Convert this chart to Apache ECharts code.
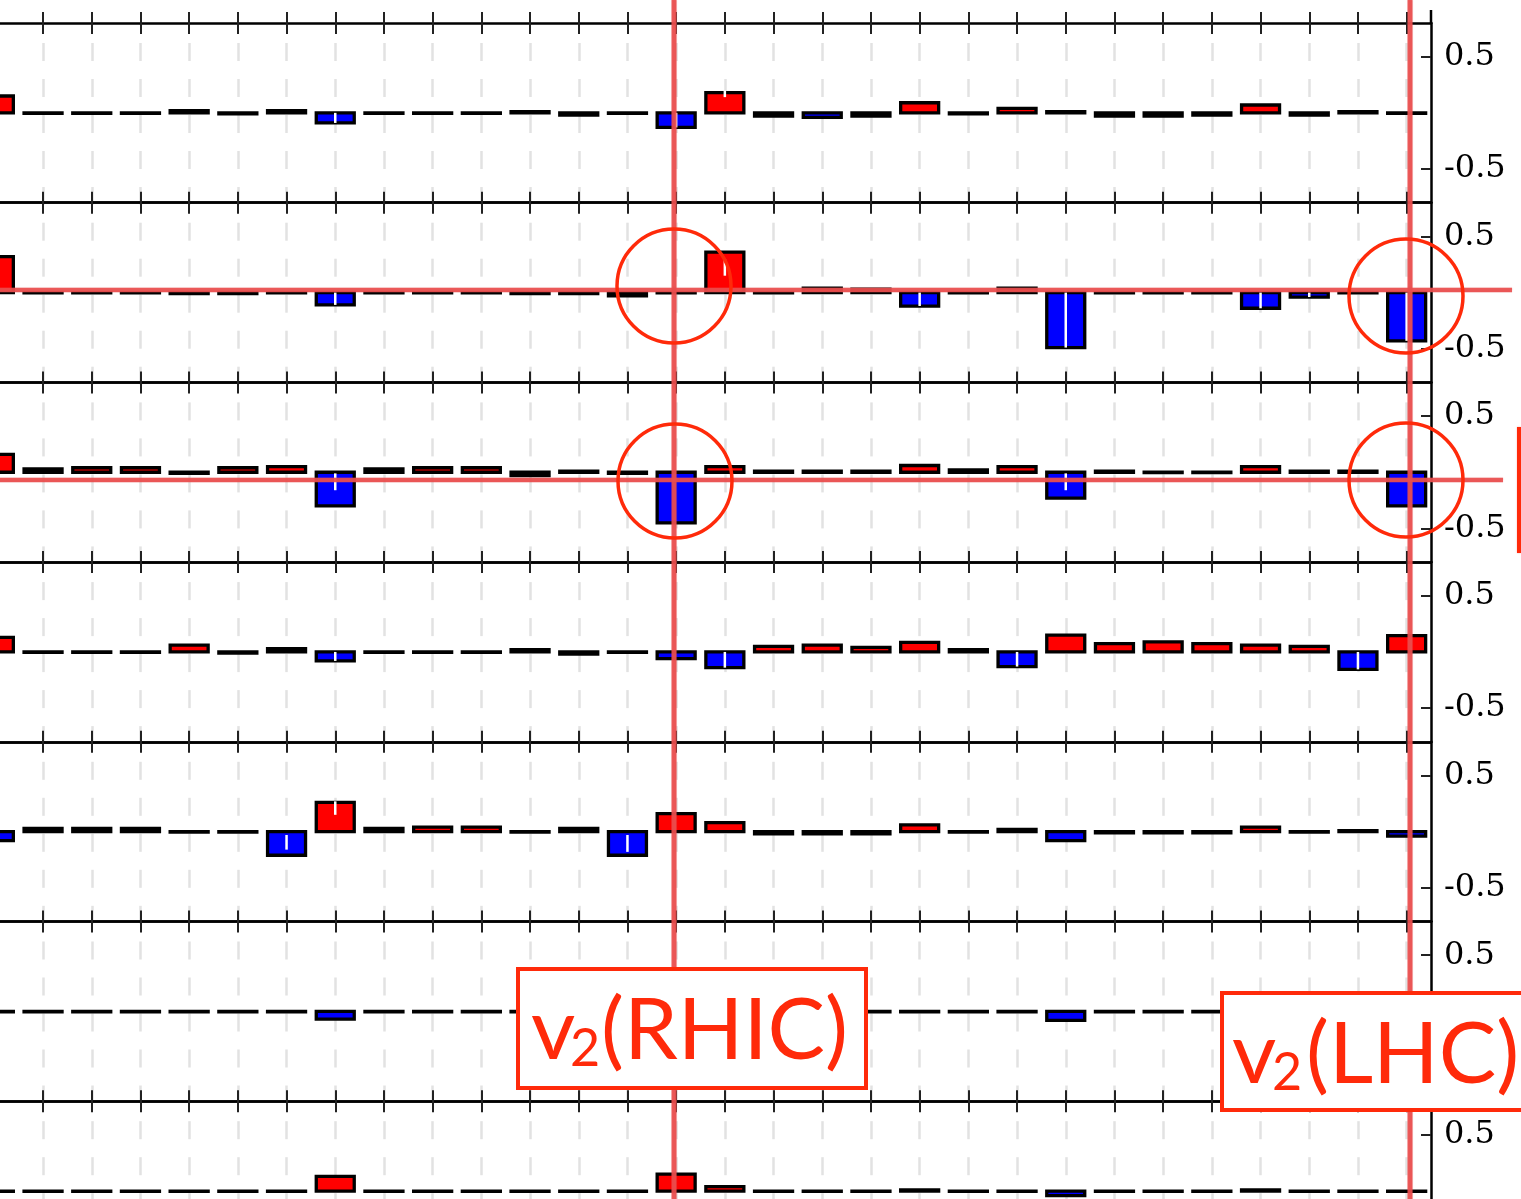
<!DOCTYPE html>
<html><head><meta charset="utf-8">
<script src="https://cdn.jsdelivr.net/npm/echarts@6/dist/echarts.min.js"></script>
<style>html,body{margin:0;padding:0;background:#fff;overflow:hidden;width:1521px;height:1199px}
#c{position:absolute;left:-30px;top:0;width:1551px;height:1300px}</style>
</head><body><div id="c"></div>
<script>
// ---------------- data ----------------
const categories = ['1','2','3','4','5','6','7','8','9','10','11','12','13','14','15',
                    '16','17','18','19','20','21','22','23','24','25','26','27','28','29','30'];
const yTickValues = [-0.5, 0.5];

const panel1 = [0.15, 0, 0, 0, 0.02, -0.01, 0.02, -0.09, 0, 0, 0, 0.01, -0.02, 0, -0.13,
                0.18, -0.03, -0.04, -0.03, 0.09, -0.01, 0.04, 0.01, -0.03, -0.03, -0.02, 0.07, -0.02, 0.01, 0];
const panel2 = [0.32, 0, 0, 0, -0.01, -0.01, 0, -0.11, 0, 0, 0, -0.01, -0.01, -0.03, 0,
                0.36, 0, 0.04, 0.03, -0.12, 0, 0.04, -0.49, 0, 0, 0, -0.14, -0.04, 0, -0.43];
const panel3 = [0.16, 0.03, 0.04, 0.04, -0.01, 0.04, 0.05, -0.30, 0.03, 0.04, 0.04, -0.03, 0.01, -0.01, -0.45,
                0.05, 0.01, 0.01, 0.01, 0.06, 0.02, 0.05, -0.23, 0.01, 0, 0, 0.05, 0.01, 0.01, -0.30];
const panel4 = [0.13, 0, 0, 0, 0.06, -0.01, 0.03, -0.08, 0, 0, 0, 0.02, -0.02, 0, -0.06,
                -0.14, 0.05, 0.06, 0.04, 0.085, 0.02, -0.13, 0.15, 0.075, 0.09, 0.075, 0.06, 0.05, -0.155, 0.145];
const panel5 = [-0.08, 0.03, 0.03, 0.03, 0, 0, -0.21, 0.26, 0.03, 0.04, 0.04, 0, 0.03, -0.21, 0.16,
                0.08, -0.02, -0.02, -0.02, 0.06, 0, 0.02, -0.08, -0.01, -0.01, -0.01, 0.04, 0, 0.01, -0.04];
const panel6 = [0, 0, 0, 0, 0, 0, 0, -0.07, 0, 0, 0, 0, 0, 0, 0,
                0, 0, 0, 0, 0, 0, 0, -0.08, 0, 0, 0, 0, 0, 0, 0];
const panel7 = [0, 0, 0, 0, 0, 0, 0, 0.13, 0, 0, 0, 0, 0, 0, 0.15,
                0.04, 0, 0, 0, 0.01, 0, 0, -0.04, 0, 0, 0, 0.01, 0, 0, 0];

// white error bars: [category index, low, high]
const errors1 = [[7, 0, -0.09], [14, 0, -0.13], [15, 0.2, 0.14]];
const errors2 = [[7, 0, -0.11], [15, 0.30, 0.15], [19, 0, -0.12], [22, 0, -0.49], [26, 0, -0.14], [27, 0, -0.04], [29, 0, -0.43]];
const errors3 = [[7, -0.01, -0.16], [22, -0.01, -0.16]];
const errors4 = [[7, 0, -0.08], [15, 0, -0.14], [21, 0, -0.13], [28, 0, -0.155]];
const errors5 = [[6, -0.03, -0.16], [7, 0.27, 0.15], [13, -0.03, -0.18]];
const errors6 = [];
const errors7 = [];

const panels = [panel1, panel2, panel3, panel4, panel5, panel6, panel7];
const errorSets = [errors1, errors2, errors3, errors4, errors5, errors6, errors7];

// ---------------- layout / style ----------------
const OX = 30;                       // container is shifted 30px to the left
const TOP0 = 23, PH = 179.7, GR = 90;
const RED = '#ff0000', BLUE = '#0000ff';
const ANN = 'rgba(233,78,78,0.9)', ANN2 = '#ff2a0a';
const BAR_FRAC = 0.78;

const grids = [], xAxes = [], yAxes = [], series = [];
panels.forEach((vals, i) => {
  grids.push({left: 0, right: GR, top: TOP0 + PH * i, height: PH});
  const common = {
    type: 'category', data: categories, gridIndex: i, boundaryGap: true,
    axisLabel: {show: false},
    axisLine: {show: true, onZero: false, lineStyle: {color: '#000', width: 2.5}},
    axisTick: {show: true, inside: true, length: 11, alignWithLabel: true, lineStyle: {color: '#222', width: 2}}
  };
  xAxes.push(Object.assign({}, common, {
    position: 'bottom',
    splitLine: {show: true, alignWithLabel: true,
      lineStyle: {color: '#e2e2e2', width: 2.5, type: [18, 18], dashOffset: 16}}
  }));
  xAxes.push(Object.assign({}, common, {position: 'top', splitLine: {show: false}}));
  yAxes.push({
    type: 'value', gridIndex: i, position: 'right', min: -0.8, max: 0.8,
    axisLine: {show: true, lineStyle: {color: '#000', width: 2.5}},
    axisTick: {show: true, inside: true, length: 10, customValues: yTickValues, lineStyle: {color: '#222', width: 2}},
    axisLabel: {show: true, customValues: yTickValues, margin: 13, color: '#000',
      fontFamily: 'DejaVu Serif', fontSize: 32, formatter: v => String(v), padding: [0, 0, 5, 0]},
    splitLine: {show: false}
  });
  // bars: rectangle from 0 to value, black outline centred on the edge
  series.push({
    type: 'custom', xAxisIndex: 2 * i, yAxisIndex: i, silent: true, z: 3,
    data: vals.map((v, k) => [k, v]),
    renderItem: (params, api) => {
      const k = api.value(0), v = api.value(1);
      const p0 = api.coord([k, 0]), p1 = api.coord([k, v]);
      const w = api.size([1, 0])[0] * BAR_FRAC;
      const h = Math.abs(p1[1] - p0[1]);
      return {type: 'rect',
        shape: {x: p0[0] - w / 2, y: Math.min(p0[1], p1[1]), width: w, height: Math.max(h, 0.4)},
        style: {fill: v >= 0 ? RED : BLUE, stroke: '#000', lineWidth: 3.3}};
    }
  });
  series.push({
    type: 'custom', xAxisIndex: 2 * i, yAxisIndex: i, silent: true, z: 4,
    data: errorSets[i],
    renderItem: (params, api) => {
      const a = api.coord([api.value(0), api.value(1)]);
      const b = api.coord([api.value(0), api.value(2)]);
      return {type: 'line', shape: {x1: a[0], y1: a[1], x2: b[0], y2: b[1]},
              style: {stroke: '#ffffff', lineWidth: 2.5}};
    }
  });
});
// extra outward ticks above the first panel
xAxes.push({
  type: 'category', data: categories, gridIndex: 0, position: 'top', boundaryGap: true,
  axisLabel: {show: false}, axisLine: {show: false, onZero: false}, splitLine: {show: false},
  axisTick: {show: true, inside: false, length: 11, alignWithLabel: true, lineStyle: {color: '#222', width: 2}}
});

// ---------------- annotations (page pixel coordinates, shifted by OX) ----------------
const sketch = {shadowBlur: 1.5, shadowColor: 'rgba(233,78,78,0.6)'};
function vline(x, y1, y2, c, w) {
  return {type: 'line', z: 50, shape: {x1: x + OX, y1: y1, x2: x + OX, y2: y2}, style: Object.assign({stroke: c, lineWidth: w}, sketch)};
}
function hline(y, x1, x2, c, w) {
  return {type: 'line', z: 50, shape: {x1: x1 + OX, y1: y, x2: x2 + OX, y2: y}, style: Object.assign({stroke: c, lineWidth: w}, sketch)};
}
function circ(cx, cy) {
  return {type: 'circle', z: 52, shape: {cx: cx + OX, cy: cy, r: 57}, style: {stroke: ANN2, lineWidth: 3.5, fill: null}};
}
function label(x, y, w, h, txt, xv, x2, xp) {
  const f = 'Lato, "Open Sans", sans-serif';
  return [
    {type: 'rect', z: 60, shape: {x: x + OX, y: y, width: w, height: h}, style: {fill: '#fff', stroke: ANN2, lineWidth: 4}},
    {type: 'text', z: 61, x: xv + OX, y: y + 62, style: {text: 'v', font: '86px ' + f, fill: ANN2, verticalAlign: 'middle'}},
    {type: 'text', z: 61, x: x2 + OX, y: y + 80, style: {text: '2', font: '52px ' + f, fill: ANN2, verticalAlign: 'middle'}},
    {type: 'text', z: 61, x: xp + OX, y: y + 62, style: {text: txt, font: '86px ' + f, fill: ANN2, verticalAlign: 'middle'}}
  ];
}
const graphic = [
  {type: 'line', z: 5, shape: {x1: 1431 + OX, y1: 10, x2: 1431 + OX, y2: 24}, style: {stroke: '#000', lineWidth: 2.5}},
  vline(674, 0, 1300, ANN, 5),
  vline(1410, 0, 1300, ANN, 5),
  hline(290, -OX, 1512, ANN, 4.5),
  hline(480, -OX, 1503, ANN, 4.5),
  circ(674, 286), circ(1406, 296), circ(675, 481), circ(1406, 480),
  vline(1519, 427, 553, ANN2, 4)
].concat(label(518, 969, 348, 119, '(RHIC)', 531, 570, 601))
 .concat(label(1222, 993, 310, 117, '(LHC)', 1232, 1272, 1306));

const chart = echarts.init(document.getElementById('c'), null, {renderer: 'canvas'});
chart.setOption({
  animation: false,
  backgroundColor: '#ffffff',
  grid: grids, xAxis: xAxes, yAxis: yAxes, series: series,
  graphic: graphic
});
</script></body></html>
